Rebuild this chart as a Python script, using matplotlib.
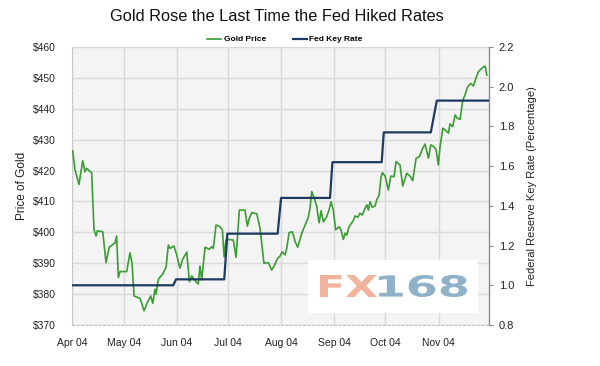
import numpy as np
import pandas as pd
import matplotlib
matplotlib.use("Agg")
import matplotlib.pyplot as plt
import matplotlib.dates as mdates
from matplotlib.patches import Rectangle, PathPatch
from matplotlib.textpath import TextPath
from matplotlib.font_manager import FontProperties
from matplotlib.transforms import Affine2D, IdentityTransform

plt.rcParams['font.family'] = ['Liberation Sans', 'DejaVu Sans']

start = pd.Timestamp("2004-04-01")

# gold price (days after 1 Apr 2004, USD)
gold_day = [0.2, 1.6, 3.9, 6.1, 7.4, 8.4, 11.3, 12.7, 13.9, 14.6, 17.8, 19.7, 21.6, 25.0, 25.9, 26.9, 27.9,
            31.8, 33.7, 34.9, 36.1, 39.6, 40.6, 41.9, 43.8, 45.8, 47.0, 48.3, 48.9, 50.3, 52.8, 54.8, 56.1, 57.1,
            59.4, 61.0, 62.9, 64.5, 66.9, 68.4, 69.8, 72.3, 73.6, 74.6, 75.6, 77.6, 80.1, 81.5, 82.4, 84.0, 86.3,
            87.7, 88.7, 89.8, 91.2, 94.1, 95.7, 97.6, 100.9, 102.3, 103.4, 104.9, 107.8, 109.7, 112.0, 114.6, 116.5, 117.9,
            120.0, 121.4, 122.7, 124.3, 125.3, 126.7, 128.6, 130.2, 131.7, 134.1, 136.4, 137.9, 138.9, 139.9, 141.4,
            142.8, 144.2, 145.4, 146.7, 148.7, 150.0, 151.2, 152.5, 153.9, 155.9, 157.0, 158.4, 159.4, 160.4, 161.7,
            164.2, 165.2, 166.8, 168.1, 169.5, 171.1, 172.1, 173.0, 174.0, 175.3, 176.9, 177.9, 179.3, 180.4, 181.2, 182.8,
            184.7, 186.1, 188.0, 189.2, 191.5, 193.1, 195.4, 197.4, 198.9, 200.9, 202.8, 204.8, 206.1, 208.1, 209.5,
            211.4, 212.6, 213.9, 214.9, 216.5, 218.4, 219.8, 220.7, 222.3, 223.7, 225.0, 226.6, 228.2, 229.5, 230.9,
            232.8, 234.4, 235.9, 237.3, 239.9, 241.3, 242.2]
gold_price = [426.4, 420.2, 415.5, 423.2, 419.6, 420.7, 419.3, 400.8, 398.8, 400.5, 400.2, 390.2, 395.2, 396.6, 398.8, 385.4, 387.3,
              387.3, 393.4, 390.0, 379.4, 378.6, 377.0, 374.6, 377.2, 379.4, 377.0, 381.6, 380.0, 384.8, 386.5, 388.7, 395.9, 394.8,
              395.6, 392.7, 388.4, 391.3, 393.6, 384.0, 385.9, 384.0, 383.3, 389.1, 384.6, 395.2, 394.5, 395.4, 394.8, 402.4, 401.8,
              400.8, 392.1, 397.5, 397.7, 397.5, 391.9, 407.2, 407.2, 402.0, 404.5, 406.4, 406.0, 401.3, 390.0, 390.2, 387.8, 389.1,
              391.6, 392.3, 393.7, 392.7, 394.8, 399.9, 400.2, 397.0, 395.2, 399.7, 402.9, 404.9, 407.8, 413.2, 411.0,
              408.5, 403.1, 407.0, 403.4, 405.1, 407.2, 409.9, 407.2, 400.8, 401.8, 400.8, 397.7, 399.7, 399.1, 401.8,
              403.8, 405.3, 404.9, 406.2, 405.6, 407.8, 408.9, 407.2, 409.9, 408.1, 408.5, 410.5, 412.1, 417.8, 419.3, 418.2,
              413.7, 418.2, 418.0, 422.9, 421.8, 415.0, 419.1, 418.2, 416.7, 424.0, 424.5, 427.2, 428.6, 424.0, 428.3,
              427.7, 426.7, 421.8, 427.7, 433.7, 432.9, 432.1, 435.1, 434.2, 438.0, 436.9, 436.6, 442.8, 444.5, 447.0,
              448.2, 447.4, 449.9, 452.0, 453.4, 453.8, 450.9]

# fed key rate steps (percent)
rate_day = [0, 59, 60.6, 88.8, 90.6, 120, 122, 150.6, 152, 180.8, 182, 209.5, 213, 243]
rate_val = [1.00, 1.00, 1.03, 1.03, 1.26, 1.26, 1.44, 1.44, 1.62, 1.62, 1.77, 1.77, 1.93, 1.93]

price_ticks = [370, 380, 390, 400, 410, 420, 430, 440, 450, 460]
rate_ticks = [0.8, 1.0, 1.2, 1.4, 1.6, 1.8, 2.0, 2.2]

gold_dates = start + pd.to_timedelta(gold_day, unit="D")
rate_dates = start + pd.to_timedelta(rate_day, unit="D")

fig = plt.figure(figsize=(6, 3.66), dpi=100)
ax = fig.add_axes([0.1205, 0.112, 0.6945, 0.7596])
ax2 = ax.twinx()

ax.set_facecolor("#f4f4f4")
g, = ax.plot(gold_dates, gold_price, color="#3a9c32", lw=1.2, label="Gold Price", zorder=3)
r, = ax2.plot(rate_dates, rate_val, color="#1d3a60", lw=1.6, label="Fed Key Rate", zorder=3)

ax.set_xlim(start, start + pd.Timedelta(days=243.5))
ax.set_ylim(370, 460)
ax2.set_ylim(0.8, 2.2)

ax.set_yticks(price_ticks)
ax.set_yticklabels([f"${v}" for v in price_ticks])
ax2.set_yticks(rate_ticks)
ax2.set_yticklabels([f"{v:.1f}" for v in rate_ticks])

ax.xaxis.set_major_locator(mdates.MonthLocator())
ax.xaxis.set_major_formatter(mdates.DateFormatter("%b %y"))

ax.grid(True, color="#d9d9d9", lw=1.0)
ax.set_axisbelow(True)

for a in (ax, ax2):
    a.spines["top"].set_visible(False)
ax2.spines["left"].set_visible(False)
ax2.spines["bottom"].set_visible(False)
ax.spines["right"].set_visible(False)
for s in ("left", "bottom"):
    ax.spines[s].set_linestyle((0, (2, 2)))
    ax.spines[s].set_color("#c4c4c4")
    ax.spines[s].set_linewidth(0.8)
ax2.spines["right"].set_color("#8c8c8c")
ax2.spines["right"].set_linewidth(1.0)

ax.tick_params(axis="y", length=0, pad=12, labelsize=7.5, labelcolor="#222222")
ax.tick_params(axis="x", length=0, pad=9, labelsize=7.5, labelcolor="#222222")
ax2.tick_params(axis="y", length=3, color="#8c8c8c", pad=4, labelsize=8, labelcolor="#222222")

ax.set_ylabel("Price of Gold", fontsize=8.5, color="#222222", labelpad=3)
ax2.set_ylabel("Federal Reserve Key Rate (Percentage)", fontsize=8, color="#222222", labelpad=9)

fig.suptitle("Gold Rose the Last Time the Fed Hiked Rates", x=0.462, y=0.975, fontsize=11.8, color="#111111")
fig.legend(handles=[g, r], loc="center", bbox_to_anchor=(0.475, 0.892), ncol=2, frameon=False,
           prop={"size": 6, "weight": "bold"}, handlelength=1.7, handletextpad=0.3, columnspacing=3.2)

# FX168 watermark
H = 366
fig.add_artist(Rectangle((308, H - 313), 170, 53, transform=IdentityTransform(),
                         facecolor="white", edgecolor="none", zorder=5))
fp = FontProperties(family="DejaVu Sans", weight="bold")
for txt, x0, x1, col in (("FX", 320, 377, "#efb49b"), ("168", 379, 467, "#8fb1c9")):
    tp = TextPath((0, 0), txt, size=10, prop=fp)
    bb = tp.get_extents()
    tr = Affine2D().translate(-bb.x0, -bb.y0).scale((x1 - x0) / bb.width, 22 / bb.height).translate(x0, H - 297)
    fig.add_artist(PathPatch(tr.transform_path(tp), transform=IdentityTransform(),
                             facecolor=col, edgecolor="none", zorder=6))

fig.savefig("out.png", dpi=100)
